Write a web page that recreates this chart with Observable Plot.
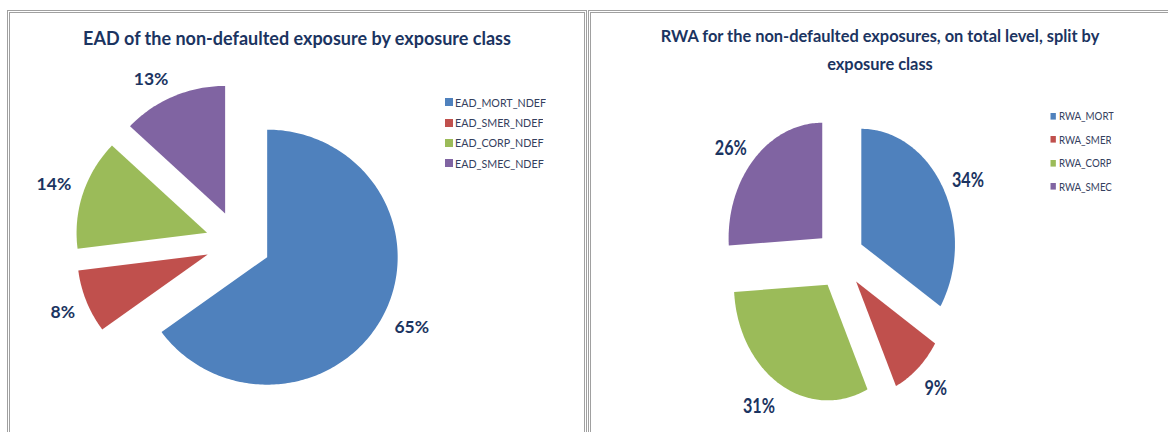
<!DOCTYPE html>
<html><head><meta charset="utf-8">
<script src="https://cdn.jsdelivr.net/npm/d3@7"></script>
<script src="https://cdn.jsdelivr.net/npm/@observablehq/plot@0.6"></script>
<style>
html,body{margin:0;padding:0;background:#fff;}
#root{position:relative;width:1168px;height:432px;overflow:hidden;font-family:Lato,"Open Sans",sans-serif;}
.panel{position:absolute;box-sizing:border-box;border:3px double #a0a0a0;background:#fff;}
.title{position:absolute;text-align:center;color:#1b3461;font-weight:700;white-space:nowrap;font-family:Lato,sans-serif;}
.abs{position:absolute;left:0;top:0;}
.abs svg{max-width:none !important;}
.legl-swatches,.legr-swatches{margin:0 !important;font-family:Lato,sans-serif !important;color:#34405e;}
.legl-swatch{height:20.3px;padding-bottom:0 !important;font-size:10.7px;}
.legl-swatch > svg{margin-right:2px !important;}
.legr-swatch{height:23.5px;padding-bottom:0 !important;font-size:12px;}
.legr-swatch > svg{margin-right:3.6px !important;}
</style>
</head><body>
<div id="root">
  <div class="panel" style="left:7px;top:10px;width:580px;height:440px;"></div>
  <div class="panel" style="left:588px;top:10px;width:600px;height:440px;"></div>
  <div class="title" style="left:7px;width:580px;top:29px;font-size:18px;line-height:18px;">EAD of the non-defaulted exposure by exposure class</div>
  <div class="title" style="left:588px;width:584px;top:22px;font-size:16.4px;line-height:28px;">RWA for the non-defaulted exposures, on total level, split by<br>exposure class</div>
  <div id="left" class="abs" style="width:587px;height:432px;"></div>
  <div id="right" class="abs" style="left:588px;width:716px;height:432px;transform:scaleX(0.81);transform-origin:0 0;"></div>
</div>
<script>
// ---- data ----
const eadNames = ["EAD_MORT_NDEF", "EAD_SMER_NDEF", "EAD_CORP_NDEF", "EAD_SMEC_NDEF"];
const eadShares = [65, 8, 14, 13];
const rwaNames = ["RWA_MORT", "RWA_SMER", "RWA_CORP", "RWA_SMEC"];
const rwaShares = [34, 9, 31, 26];
const sliceColors = ["#4F81BD", "#C0504D", "#9BBB59", "#8064A2"];

function pieData(names, values, explode) {
  const arcs = d3.pie().sort(null).value(d => d)(values);
  const total = d3.sum(values);
  const slices = [], labels = [];
  arcs.forEach((a, i) => {
    const mid = (a.startAngle + a.endAngle) / 2;
    const ox = explode * Math.sin(mid), oy = explode * Math.cos(mid);
    slices.push({name: names[i], x: ox, y: oy});
    const n = Math.max(2, Math.ceil((a.endAngle - a.startAngle) / (Math.PI / 180)));
    for (let k = 0; k <= n; k++) {
      const t = a.startAngle + (a.endAngle - a.startAngle) * k / n;
      slices.push({name: names[i], x: ox + Math.sin(t), y: oy + Math.cos(t)});
    }
    labels.push({name: names[i], text: Math.round(values[i] / total * 100) + "%", sx: Math.sin(mid), sy: Math.cos(mid), ox, oy});
  });
  return {slices, labels};
}

function pieChart({names, values, explode, cx, cy, rx, ry, width, height, fontSize, dy}) {
  const {slices, labels} = pieData(names, values, explode);
  const gap = 12 / ry;
  const lab = labels.map(d => ({...d, lx: d.ox + (1 + gap) * d.sx, ly: d.oy + (1 + gap) * d.sy}));
  const textMarks = [];
  for (const h of ["start", "end"]) for (const v of ["top", "bottom"]) {
    const sub = lab.filter(d => (d.sx >= 0 ? "start" : "end") === h && (d.sy >= 0 ? "bottom" : "top") === v);
    if (sub.length) textMarks.push(Plot.text(sub, {x: "lx", y: "ly", text: "text", textAnchor: h, lineAnchor: v, fill: "#1b3461", fontWeight: "bold", fontSize, dy}));
  }
  return Plot.plot({
    width, height, margin: 0,
    style: {fontFamily: "Lato, sans-serif", background: "transparent", overflow: "visible"},
    x: {domain: [-1, 1], range: [cx - rx, cx + rx], axis: null},
    y: {domain: [-1, 1], range: [cy + ry, cy - ry], axis: null},
    color: {domain: names, range: sliceColors},
    marks: [
      Plot.line(slices, {x: "x", y: "y", z: "name", fill: "name", stroke: "none", curve: "linear-closed"}),
      ...textMarks
    ]
  });
}

const leftSvg = pieChart({names: eadNames, values: eadShares, explode: 0.25, cx: 237.6, cy: 242.2, rx: 130.5, ry: 127.5, width: 587, height: 432, fontSize: 17.5, dy: 0});
document.getElementById("left").appendChild(leftSvg);
const legL = Plot.legend({color: {type: "ordinal", domain: eadNames, range: sliceColors}, legend: "swatches", columns: 1, swatchSize: 8, className: "legl"});
legL.style.position = "absolute"; legL.style.left = "445px"; legL.style.top = "92.2px";
document.getElementById("left").appendChild(legL);

const rightSvg = pieChart({names: rwaNames, values: rwaShares, explode: 0.26, cx: 310.6, cy: 258.4, rx: 115.6, ry: 115.6, width: 716, height: 432, fontSize: 20, dy: 4});
document.getElementById("right").appendChild(rightSvg);
const legR = Plot.legend({color: {type: "ordinal", domain: rwaNames, range: sliceColors}, legend: "swatches", columns: 1, swatchSize: 6.6, className: "legr"});
legR.style.position = "absolute"; legR.style.left = "571.2px"; legR.style.top = "104.2px";
document.getElementById("right").appendChild(legR);
</script>
</body></html>
